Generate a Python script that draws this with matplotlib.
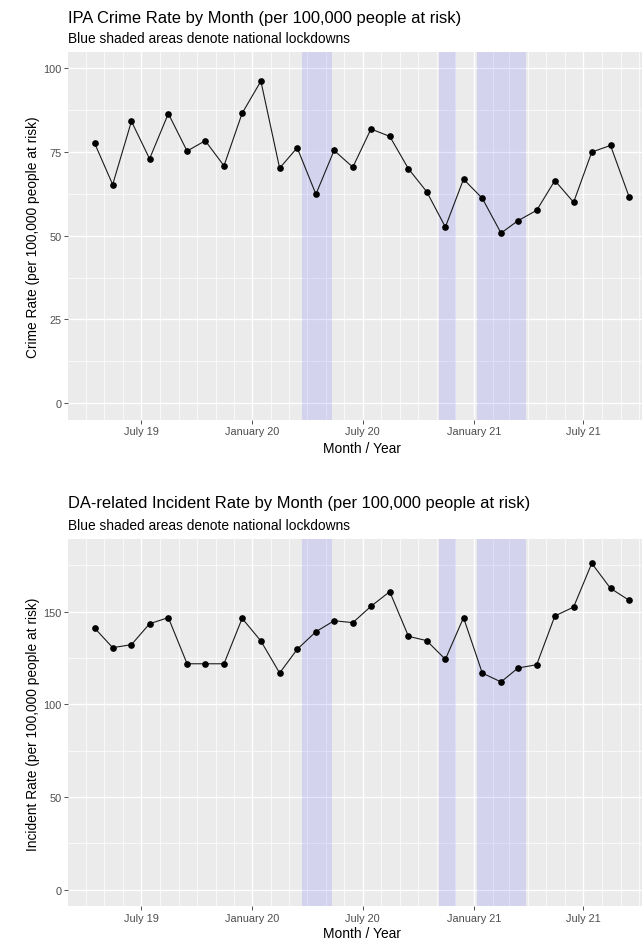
import matplotlib
matplotlib.use("Agg")
import matplotlib.pyplot as plt
import matplotlib.dates as mdates
import numpy as np
import pandas as pd

plt.rcParams['font.family'] = ['Liberation Sans', 'DejaVu Sans']

# ---------------- data ----------------
months = pd.date_range("2019-04-01", periods=30, freq="MS") + pd.Timedelta(days=14)

crime_rate = [77.7, 65.3, 84.2, 73.0, 86.5, 75.3, 78.4, 70.9, 86.6, 96.2,
              70.2, 76.3, 62.4, 75.5, 70.5, 81.9, 79.7, 70.0, 63.2, 52.6,
              66.9, 61.2, 50.8, 54.5, 57.6, 66.5, 60.0, 75.0, 77.0, 61.5]

incident_rate = [141.2, 130.6, 132.2, 143.5, 146.8, 121.9, 121.9, 121.9, 146.4, 134.2,
                 116.9, 129.7, 139.2, 145.1, 144.1, 152.9, 160.8, 136.7, 134.4, 124.3,
                 146.8, 116.9, 112.1, 119.6, 121.4, 147.7, 152.5, 176.1, 162.6, 156.1]

lockdown_start = ["2020-03-23", "2020-11-05", "2021-01-06"]
lockdown_end = ["2020-05-11", "2020-12-02", "2021-03-29"]

major_breaks = ["2019-07-01", "2020-01-01", "2020-07-01", "2021-01-01", "2021-07-01"]
major_labels = ["July 19", "January 20", "July 20", "January 21", "July 21"]

titles = ["IPA Crime Rate by Month (per 100,000 people at risk)",
          "DA-related Incident Rate by Month (per 100,000 people at risk)"]
subtitle = "Blue shaded areas denote national lockdowns"
ylabels = ["Crime Rate (per 100,000 people at risk)",
           "Incident Rate (per 100,000 people at risk)"]
xlabel = "Month / Year"

# ---------------- figure ----------------
W, H = 642, 945
fig = plt.figure(figsize=(W / 100, H / 100), dpi=100)

def fx(px):
    return px / W

def fy(py):
    return 1 - py / H

panel_left = 67.8
panel_right = 656.0
panels = [
    dict(top=52.7, bottom=420.8, values=crime_rate, ylim=(0, 100),
         yticks=[0, 25, 50, 75, 100], title_y=19, sub_y=39, xlab_y=449, ylab=ylabels[0], title=titles[0]),
    dict(top=540.4, bottom=907.4, values=incident_rate, ylim=(0, 180),
         yticks=[0, 50, 100, 150], title_y=504, sub_y=526, xlab_y=934, ylab=ylabels[1], title=titles[1]),
]

xnum = mdates.date2num(months.to_pydatetime())
xr = xnum.max() - xnum.min()
xmin, xmax = xnum.min() - 0.05 * xr, xnum.max() + 0.05 * xr

minor_x = mdates.date2num(pd.date_range("2019-03-01", "2021-11-01", freq="MS").to_pydatetime())
major_x = mdates.date2num(pd.to_datetime(major_breaks).to_pydatetime())

for p in panels:
    ax = fig.add_axes([fx(panel_left), fy(p["bottom"]),
                       fx(panel_right - panel_left), (p["bottom"] - p["top"]) / H])
    ax.set_facecolor("#EBEBEB")
    for s in ax.spines.values():
        s.set_visible(False)
    lo, hi = p["ylim"]
    yr = hi - lo
    ax.set_ylim(lo - 0.05 * yr, hi + 0.05 * yr)
    ax.set_xlim(xmin, xmax)

    # grid
    yt = p["yticks"]
    step = yt[1] - yt[0]
    for v in np.arange(yt[0] + step / 2, hi + 0.05 * yr, step):
        ax.axhline(v, color="white", lw=0.5, zorder=0.5)
    for v in yt:
        ax.axhline(v, color="white", lw=1.0, zorder=0.6)
    for v in minor_x:
        ax.axvline(v, color="white", lw=0.5, zorder=0.5)
    for v in major_x:
        ax.axvline(v, color="white", lw=1.0, zorder=0.6)

    # lockdown shading
    for s0, s1 in zip(lockdown_start, lockdown_end):
        ax.axvspan(mdates.date2num(pd.Timestamp(s0)), mdates.date2num(pd.Timestamp(s1)),
                   color="blue", alpha=0.1, lw=0, zorder=1)

    ax.plot(xnum, p["values"], color="#1a1a1a", lw=0.8, zorder=2)
    ax.plot(xnum, p["values"], "o", color="black", ms=3.8, zorder=3)

    ax.set_yticks(yt)
    ax.set_yticklabels([str(v) for v in yt])
    ax.set_xticks(major_x)
    ax.set_xticklabels(major_labels)
    ax.tick_params(axis="both", length=2.6, width=0.6, color="#333333",
                   labelcolor="#4D4D4D", labelsize=7.9, pad=1.8)

    fig.text(fx(68), fy(p["title_y"]), p["title"], fontsize=11.9, color="black",
             ha="left", va="center")
    fig.text(fx(68), fy(p["sub_y"]), subtitle, fontsize=9.9, color="black",
             ha="left", va="center")
    fig.text(fx((panel_left + panel_right) / 2), fy(p["xlab_y"]), xlabel, fontsize=9.9,
             ha="center", va="center")
    fig.text(fx(33), fy((p["top"] + p["bottom"]) / 2), p["ylab"], fontsize=9.9,
             rotation=90, ha="center", va="center")

fig.savefig("out.png", dpi=100)
